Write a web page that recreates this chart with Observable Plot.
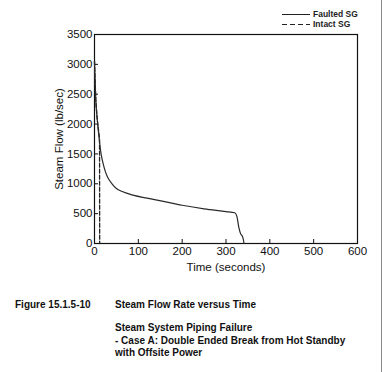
<!DOCTYPE html>
<html>
<head>
<meta charset="utf-8">
<script src="https://cdn.jsdelivr.net/npm/d3@7"></script>
<script src="https://cdn.jsdelivr.net/npm/@observablehq/plot@0.6"></script>
<style>
  html, body { margin: 0; padding: 0; background: #fff; }
  body { width: 384px; height: 372px; position: relative; overflow: hidden; font-family: "Liberation Sans", Arial, sans-serif; color: #111; }
  #chart { position: absolute; left: 0; top: 0; }
  .leg { position: absolute; left: 282px; font-size: 8.5px; font-weight: bold; line-height: 10px; color: #222; }
  .leg span.ln { display: inline-block; width: 28px; height: 1px; vertical-align: middle; margin-right: 3px; }
  .cap { position: absolute; font-size: 10px; font-weight: bold; line-height: 12.5px; }
  #border { position: absolute; left: 381px; top: 0; width: 0; height: 372px; border-left: 1px solid #888; }
</style>
</head>
<body>
<div id="chart"></div>
<div class="leg" style="top:9px"><span class="ln" style="background:#222"></span>Faulted SG</div>
<div class="leg" style="top:19px"><span class="ln" style="background:repeating-linear-gradient(to right,#222 0 5px,transparent 5px 8px)"></span>Intact SG</div>
<div class="cap" style="left:15px; top:299px">Figure 15.1.5-10</div>
<div class="cap" style="left:115px; top:299px">Steam Flow Rate versus Time</div>
<div class="cap" style="left:115px; top:322px">Steam System Piping Failure<br>- Case A: Double Ended Break from Hot Standby<br>with Offsite Power</div>
<div id="border"></div>
<script>
const faultedT = [0, 1, 3, 6, 10, 15, 20, 25, 30, 40, 50, 60, 75, 90, 120, 160, 200, 250, 300, 320, 325, 329, 333, 338, 340, 341];
const faultedF = [3050, 2800, 2400, 2100, 1800, 1500, 1330, 1200, 1110, 1000, 920, 880, 840, 805, 760, 700, 640, 580, 535, 515, 450, 280, 170, 110, 50, 0];
const intactT = [0, 1, 3, 6, 10, 11.5, 11.8];
const intactF = [3050, 2800, 2400, 2100, 1850, 1760, 0];
const xTicks = [0, 100, 200, 300, 400, 500, 600];
const yTicks = [0, 500, 1000, 1500, 2000, 2500, 3000, 3500];

const faulted = faultedT.map((t, i) => ({t, f: faultedF[i]}));
const intact = intactT.map((t, i) => ({t, f: intactF[i]}));

const W = 384, H = 372, ML = 94, MR = 27, MT = 34, MB = 129, TICK = 4;

const plot = Plot.plot({
  width: W,
  height: H,
  marginLeft: ML,
  marginRight: MR,
  marginTop: MT,
  marginBottom: MB,
  style: {fontFamily: "Liberation Sans, Arial, sans-serif", fontSize: "11.5px", color: "#111", background: "transparent"},
  x: {domain: [0, 600]},
  y: {domain: [0, 3500]},
  marks: [
    Plot.frame({stroke: "#111", strokeWidth: 1.2}),
    // inward tick marks
    Plot.tickX(xTicks, {x: d => d, stroke: "#111", insetTop: H - MT - MB - TICK}),
    Plot.tickY(yTicks, {y: d => d, stroke: "#111", insetRight: W - ML - MR - TICK}),
    // labels
    Plot.axisX({ticks: xTicks, tickSize: 0, tickPadding: 3, tickFormat: d3.format("d"), label: "Time (seconds)", labelAnchor: "center", labelArrow: "none", labelOffset: 27, fontSize: 11.5}),
    Plot.axisY({ticks: yTicks, tickSize: 0, tickPadding: 2, tickFormat: d3.format("d"), label: "Steam Flow (lb/sec)", labelAnchor: "center", labelArrow: "none", labelOffset: 40, fontSize: 11.5}),
    Plot.line(intact, {x: "t", y: "f", stroke: "#222", strokeWidth: 1.3, strokeDasharray: "4,2"}),
    Plot.line(faulted, {x: "t", y: "f", stroke: "#2a2a2a", strokeWidth: 1.2, curve: "monotone-x"})
  ]
});
document.getElementById("chart").appendChild(plot);
</script>
</body>
</html>
